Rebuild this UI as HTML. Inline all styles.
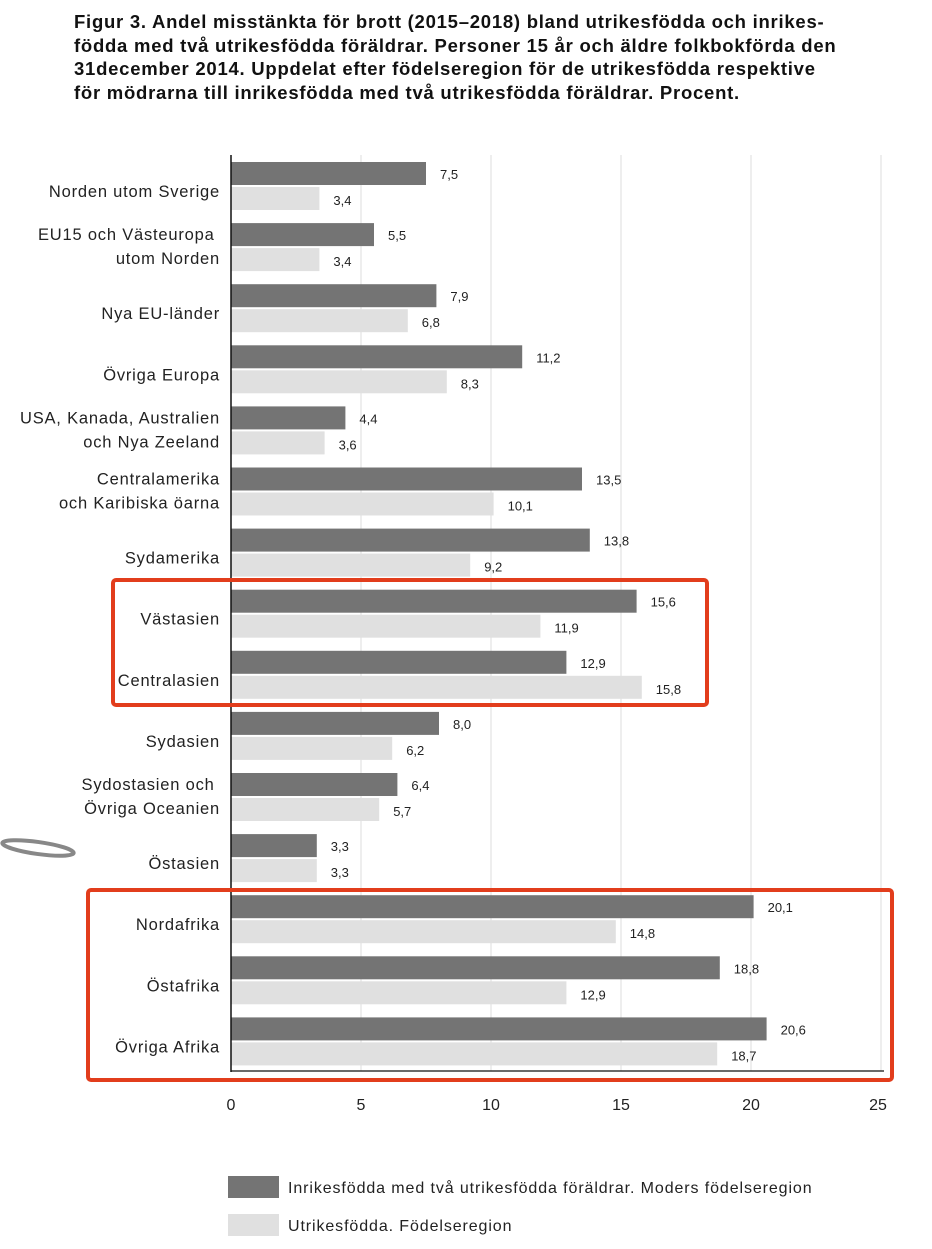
<!DOCTYPE html>
<html><head><meta charset="utf-8"><style>
body{margin:0;background:#fff;width:932px;height:1249px;overflow:hidden;font-family:"Liberation Sans",sans-serif}
.t{position:absolute;left:74px;top:10px;font-weight:bold;font-size:18.5px;letter-spacing:0.75px;line-height:23.5px;color:#111;width:858px;white-space:nowrap}
</style></head><body>
<div class="t">Figur 3. Andel misstänkta för brott (2015–2018) bland utrikesfödda och inrikes-<br>födda med två utrikesfödda föräldrar. Personer 15 år och äldre folkbokförda den<br>31december 2014. Uppdelat efter födelseregion för de utrikesfödda respektive<br>för mödrarna till inrikesfödda med två utrikesfödda föräldrar. Procent.</div>
<svg width="932" height="1249" style="position:absolute;left:0;top:0" font-family="Liberation Sans, sans-serif">
<g stroke="#ddd" stroke-width="1">
<line x1="361" y1="155" x2="361" y2="1071"/><line x1="491" y1="155" x2="491" y2="1071"/><line x1="621" y1="155" x2="621" y2="1071"/><line x1="751" y1="155" x2="751" y2="1071"/><line x1="881" y1="155" x2="881" y2="1071"/>
</g>
<g id="bars"></g>
<line x1="231" y1="155" x2="231" y2="1072" stroke="#111" stroke-width="1.5"/>
<line x1="231" y1="1071" x2="884" y2="1071" stroke="#111" stroke-width="1.2"/>
<g font-size="16" fill="#222" text-anchor="middle">
<text x="231" y="1110">0</text><text x="361" y="1110">5</text><text x="491" y="1110">10</text><text x="621" y="1110">15</text><text x="751" y="1110">20</text><text x="878" y="1110">25</text>
</g>
<rect x="113" y="580" width="594" height="125" fill="none" stroke="#e23d1c" stroke-width="4" rx="3"/>
<rect x="88" y="890" width="804" height="190" fill="none" stroke="#e23d1c" stroke-width="4" rx="3"/>
<ellipse cx="38" cy="848" rx="36" ry="6" fill="none" stroke="#888" stroke-width="4" transform="rotate(8 38 848)"/>
<rect x="228" y="1176" width="51" height="22" fill="#747474"/>
<rect x="228" y="1214" width="51" height="22" fill="#e0e0e0"/>
<text x="288" y="1193" font-size="16" letter-spacing="0.9" fill="#222">Inrikesfödda med två utrikesfödda föräldrar. Moders födelseregion</text>
<text x="288" y="1231" font-size="16" letter-spacing="0.9" fill="#222">Utrikesfödda. Födelseregion</text>
</svg>
<script>
var d=[["Norden utom Sverige",7.5,3.4],["EU15 och Västeuropa |utom Norden",5.5,3.4],["Nya EU-länder",7.9,6.8],["Övriga Europa",11.2,8.3],["USA, Kanada, Australien|och Nya Zeeland",4.4,3.6],["Centralamerika|och Karibiska öarna",13.5,10.1],["Sydamerika",13.8,9.2],["Västasien",15.6,11.9],["Centralasien",12.9,15.8],["Sydasien",8.0,6.2],["Sydostasien och |Övriga Oceanien",6.4,5.7],["Östasien",3.3,3.3],["Nordafrika",20.1,14.8],["Östafrika",18.8,12.9],["Övriga Afrika",20.6,18.7]];
var s="";
var T='font-size="16.5" letter-spacing="0.8" fill="#222" text-anchor="end" xml:space="preserve"';
d.forEach(function(r,i){var y=162+i*61.1;var f=function(v){return v.toFixed(1).replace('.',',')};
s+='<rect x="231" y="'+y+'" width="'+(r[1]*26)+'" height="23" fill="#747474"/>';
s+='<rect x="231" y="'+(y+25)+'" width="'+(r[2]*26)+'" height="23" fill="#e0e0e0"/>';
s+='<text x="'+(231+r[1]*26+14)+'" y="'+(y+17)+'" font-size="13" fill="#222">'+f(r[1])+'</text>';
s+='<text x="'+(231+r[2]*26+14)+'" y="'+(y+43)+'" font-size="13" fill="#222">'+f(r[2])+'</text>';
var L=r[0].split('|');
if(L.length==1)s+='<text x="220" y="'+(y+35)+'" '+T+'>'+L[0]+'</text>';
else{s+='<text x="220" y="'+(y+17)+'" '+T+'>'+L[0]+'</text>';s+='<text x="220" y="'+(y+41)+'" '+T+'>'+L[1]+'</text>';}
});
document.getElementById('bars').innerHTML=s;
</script>
</body></html>
